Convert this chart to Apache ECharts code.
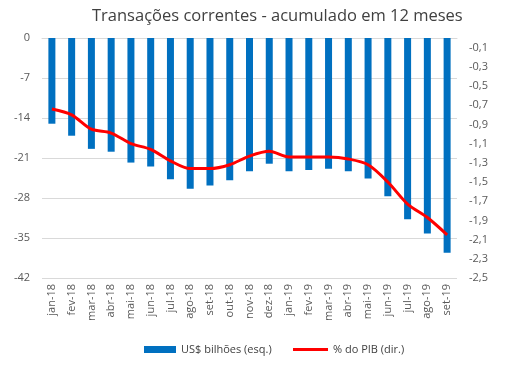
<!DOCTYPE html>
<html><head><meta charset="utf-8">
<script src="https://cdn.jsdelivr.net/npm/echarts@6/dist/echarts.min.js"></script>
<style>html,body{margin:0;padding:0;background:#fff}#c{width:514px;height:378px}</style>
</head><body><div id="c"></div>
<script>
const categories = ['jan-18','fev-18','mar-18','abr-18','mai-18','jun-18','jul-18','ago-18','set-18','out-18','nov-18','dez-18','jan-19','fev-19','mar-19','abr-19','mai-19','jun-19','jul-19','ago-19','set-19'];
const usdBilhoes = [-15.0,-17.1,-19.4,-19.9,-21.8,-22.5,-24.7,-26.4,-25.8,-24.9,-23.3,-22.0,-23.3,-23.1,-22.9,-23.3,-24.6,-27.7,-31.7,-34.2,-37.6];
const pctPIB = [-0.74,-0.80,-0.95,-0.99,-1.10,-1.16,-1.28,-1.36,-1.36,-1.32,-1.23,-1.18,-1.24,-1.24,-1.24,-1.26,-1.32,-1.50,-1.73,-1.87,-2.05];
const leftTicks = {min:-42, max:0, interval:7};
const rightTicks = {min:-2.5, max:0, interval:0.2};

const font = 'Open Sans, Liberation Sans, sans-serif';
const chart = echarts.init(document.getElementById('c'), null, {renderer:'canvas'});
const legText = {fontFamily:font, fontSize:11, color:'#404040'};
chart.setOption({
  animation:false,
  title:{text:'Transações correntes - acumulado em 12 meses', left:87, top:3,
    textStyle:{fontFamily:font, fontSize:16.5, fontWeight:'normal', color:'#404040'}},
  grid:{left:42, right:57, top:38, bottom:100, containLabel:false},
  legend:[
    {left:139, top:339, itemWidth:32, itemHeight:7, itemGap:5, textStyle:legText,
     data:[{name:'US$ bilhões (esq.)', icon:'rect'}]},
    {left:288, top:339, itemWidth:35, itemHeight:3, itemGap:5, textStyle:legText,
     data:[{name:'% do PIB (dir.)', icon:'rect'}]}
  ],
  xAxis:{type:'category', data:categories, boundaryGap:true,
    axisLine:{show:true, lineStyle:{color:'#D9D9D9'}}, axisTick:{show:false},
    axisLabel:{rotate:90, interval:0, fontFamily:font, fontSize:11, color:'#595959', margin:6}},
  yAxis:[
    {type:'value', min:leftTicks.min, max:leftTicks.max, interval:leftTicks.interval,
     axisLine:{show:false}, axisTick:{show:false},
     splitLine:{lineStyle:{color:'#D9D9D9'}},
     axisLabel:{fontFamily:font, fontSize:11, color:'#595959', margin:12}},
    {type:'value', min:rightTicks.min, max:rightTicks.max, interval:rightTicks.interval,
     axisLine:{show:false}, axisTick:{show:false}, splitLine:{show:false},
     axisLabel:{fontFamily:font, fontSize:11, color:'#595959', margin:12, showMaxLabel:false,
       formatter:v=> Math.abs(v) < 1e-9 ? '' : v.toFixed(1).replace('.',',')}}
  ],
  series:[
    {name:'US$ bilhões (esq.)', type:'bar', data:usdBilhoes, yAxisIndex:0, barWidth:7,
     itemStyle:{color:'#0070C0'}},
    {name:'% do PIB (dir.)', type:'line', data:pctPIB, yAxisIndex:1, smooth:0.3,
     symbol:'none', lineStyle:{color:'#FF0000', width:3}, itemStyle:{color:'#FF0000'}}
  ]
});
</script></body></html>
